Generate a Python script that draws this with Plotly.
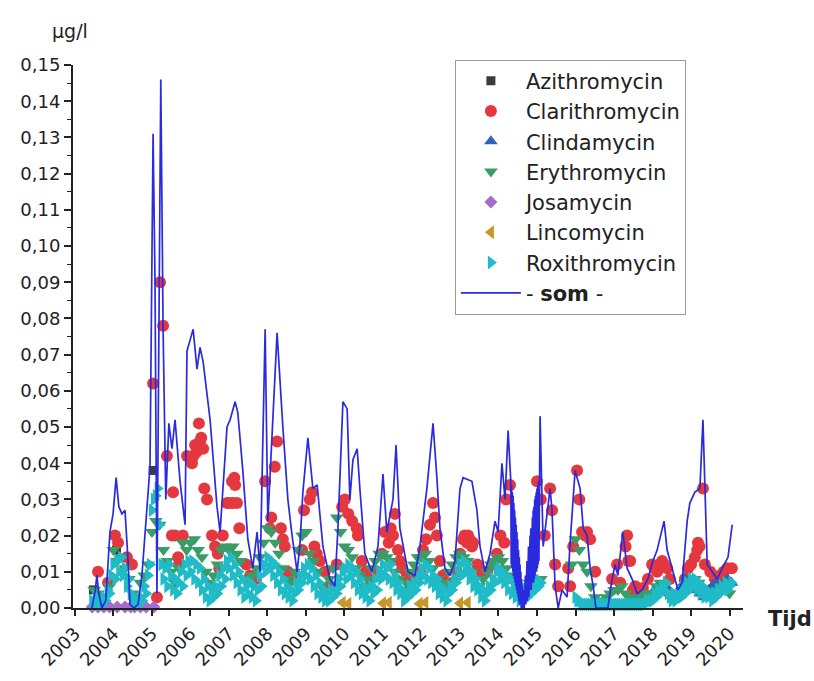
import plotly.graph_objects as go

# ---------------- data (decimal years, µg/l) ----------------
# "som" line, part before the dense 2014/2015 stretch
som_a_x = [2003.44, 2003.53, 2003.57, 2003.62, 2003.70, 2003.80, 2003.91, 2003.99, 2004.07, 2004.14,
           2004.22, 2004.30, 2004.38, 2004.43, 2004.53, 2004.64, 2004.74, 2004.84, 2004.95, 2005.03,
           2005.08, 2005.13, 2005.23, 2005.29, 2005.36, 2005.44, 2005.52, 2005.60, 2005.73, 2005.86,
           2005.91, 2005.99, 2006.07, 2006.17, 2006.25, 2006.33, 2006.51, 2006.69, 2006.77, 2006.95,
           2007.03, 2007.16, 2007.23, 2007.36, 2007.49, 2007.62, 2007.73, 2007.81, 2007.94, 2008.01,
           2008.25, 2008.40, 2008.53, 2008.64, 2008.77, 2008.84, 2008.92, 2009.05, 2009.18, 2009.29,
           2009.44, 2009.62, 2009.75, 2009.83, 2009.96, 2010.07, 2010.14, 2010.22, 2010.33, 2010.40,
           2010.53, 2010.71, 2010.87, 2011.00, 2011.10, 2011.26, 2011.34, 2011.44, 2011.52, 2011.65,
           2011.83, 2011.96, 2012.14, 2012.30, 2012.40, 2012.48, 2012.61, 2012.74, 2012.87, 2013.00,
           2013.08, 2013.31, 2013.44, 2013.52, 2013.65, 2013.78, 2013.91, 2013.99, 2014.09, 2014.17,
           2014.25, 2014.30]
som_a_y = [0.000, 0.005, 0.009, 0.004, 0.000, 0.002, 0.021, 0.026, 0.036, 0.028,
           0.026, 0.027, 0.013, 0.001, 0.000, 0.001, 0.009, 0.024, 0.039, 0.131,
           0.090, 0.004, 0.146, 0.077, 0.030, 0.051, 0.044, 0.052, 0.035, 0.023,
           0.071, 0.074, 0.077, 0.066, 0.072, 0.068, 0.052, 0.028, 0.021, 0.050,
           0.052, 0.057, 0.054, 0.038, 0.019, 0.011, 0.021, 0.010, 0.077, 0.024,
           0.076, 0.050, 0.030, 0.020, 0.010, 0.017, 0.032, 0.047, 0.033, 0.034,
           0.017, 0.008, 0.006, 0.022, 0.057, 0.055, 0.030, 0.041, 0.044, 0.033,
           0.015, 0.010, 0.017, 0.037, 0.021, 0.030, 0.045, 0.022, 0.017, 0.010,
           0.009, 0.017, 0.033, 0.051, 0.036, 0.022, 0.011, 0.009, 0.013, 0.033,
           0.036, 0.035, 0.027, 0.017, 0.010, 0.015, 0.024, 0.021, 0.040, 0.030,
           0.049, 0.036]

# "som" line, dense (high-frequency) stretch 2014.3 - 2015.1
som_d_x = [2014.32, 2014.33, 2014.34, 2014.35, 2014.36, 2014.37, 2014.38, 2014.39, 2014.40, 2014.41,
           2014.42, 2014.43, 2014.44, 2014.45, 2014.46, 2014.47, 2014.48, 2014.49, 2014.50, 2014.51,
           2014.52, 2014.53, 2014.54, 2014.55, 2014.56, 2014.57, 2014.58, 2014.59, 2014.60, 2014.61,
           2014.62, 2014.63, 2014.64, 2014.65, 2014.66, 2014.67, 2014.68, 2014.69, 2014.70, 2014.71,
           2014.72, 2014.73, 2014.74, 2014.75, 2014.76, 2014.77, 2014.78, 2014.79, 2014.80, 2014.81,
           2014.82, 2014.83, 2014.84, 2014.85, 2014.86, 2014.87, 2014.88, 2014.89, 2014.90, 2014.91,
           2014.92, 2014.93, 2014.94, 2014.95, 2014.96, 2014.97, 2014.98, 2014.99, 2015.00, 2015.01,
           2015.02, 2015.03, 2015.04, 2015.05, 2015.06, 2015.07]
som_d_y = [0.035, 0.012, 0.034, 0.011, 0.032, 0.010, 0.031, 0.009, 0.029, 0.008,
           0.027, 0.007, 0.025, 0.006, 0.023, 0.005, 0.021, 0.004, 0.019, 0.003,
           0.016, 0.002, 0.014, 0.001, 0.012, 0.001, 0.010, 0.000, 0.008, 0.000,
           0.006, 0.000, 0.004, 0.000, 0.005, 0.000, 0.007, 0.001, 0.009, 0.001,
           0.011, 0.002, 0.013, 0.002, 0.015, 0.003, 0.017, 0.003, 0.019, 0.004,
           0.020, 0.005, 0.022, 0.005, 0.024, 0.006, 0.025, 0.007, 0.027, 0.007,
           0.028, 0.008, 0.030, 0.009, 0.031, 0.010, 0.032, 0.010, 0.033, 0.011,
           0.034, 0.012, 0.035, 0.013, 0.035, 0.015]

# "som" line, part after the dense stretch
som_b_x = [2015.08, 2015.16, 2015.34, 2015.39, 2015.47, 2015.55, 2015.65, 2015.78, 2015.86, 2015.99,
           2016.12, 2016.20, 2016.30, 2016.38, 2016.46, 2016.53, 2016.70, 2016.84, 2016.95, 2017.03,
           2017.10, 2017.23, 2017.34, 2017.47, 2017.60, 2017.73, 2017.88, 2018.01, 2018.12, 2018.22,
           2018.30, 2018.38, 2018.53, 2018.66, 2018.77, 2018.90, 2018.97, 2019.10, 2019.23, 2019.31,
           2019.42, 2019.55, 2019.68, 2019.81, 2019.96, 2020.07]
som_b_y = [0.053, 0.017, 0.033, 0.027, 0.006, 0.000, 0.005, 0.003, 0.018, 0.038,
           0.033, 0.022, 0.020, 0.011, 0.006, 0.000, 0.000, 0.000, 0.008, 0.012,
           0.009, 0.021, 0.011, 0.008, 0.004, 0.005, 0.008, 0.013, 0.016, 0.020,
           0.024, 0.016, 0.010, 0.005, 0.007, 0.024, 0.029, 0.032, 0.033, 0.052,
           0.012, 0.010, 0.008, 0.011, 0.014, 0.023]

azi_x = [2003.48, 2004.08, 2005.03]
azi_y = [0.005, 0.016, 0.038]

cla_x = [2003.60, 2003.86, 2004.04, 2004.12, 2004.35, 2004.48, 2005.03, 2005.13, 2005.21, 2005.29,
         2005.39, 2005.52, 2005.55, 2005.60, 2005.68, 2005.70, 2005.80, 2005.91, 2006.04, 2006.08,
         2006.12, 2006.15, 2006.22, 2006.25, 2006.28, 2006.33, 2006.36, 2006.43, 2006.56, 2006.64,
         2006.71, 2006.75, 2006.84, 2006.95, 2007.02, 2007.08, 2007.10, 2007.14, 2007.16, 2007.21,
         2007.27, 2007.45, 2007.55, 2007.70, 2007.94, 2008.06, 2008.10, 2008.19, 2008.25, 2008.35,
         2008.40, 2008.45, 2008.53, 2008.62, 2008.75, 2008.90, 2008.95, 2009.10, 2009.16, 2009.22,
         2009.28, 2009.36, 2009.49, 2009.60, 2009.80, 2009.94, 2010.01, 2010.10, 2010.20, 2010.32,
         2010.35, 2010.45, 2010.55, 2010.66, 2010.85, 2010.97, 2011.05, 2011.15, 2011.20, 2011.26,
         2011.31, 2011.39, 2011.44, 2011.50, 2011.62, 2011.75, 2011.85, 2011.96, 2012.04, 2012.12,
         2012.22, 2012.30, 2012.35, 2012.40, 2012.48, 2012.56, 2012.69, 2012.80, 2012.92, 2013.00,
         2013.08, 2013.12, 2013.18, 2013.21, 2013.25, 2013.31, 2013.34, 2013.45, 2013.55, 2013.70,
         2013.86, 2013.96, 2014.05, 2014.15, 2014.20, 2014.30, 2015.00, 2015.10, 2015.20, 2015.34,
         2015.39, 2015.47, 2015.55, 2015.81, 2015.86, 2015.94, 2016.04, 2016.10, 2016.17, 2016.25,
         2016.30, 2016.38, 2016.51, 2016.95, 2017.08, 2017.16, 2017.30, 2017.34, 2017.37, 2017.42,
         2017.49, 2017.55, 2017.62, 2017.70, 2017.75, 2017.88, 2017.99, 2018.05, 2018.12, 2018.18,
         2018.25, 2018.30, 2018.38, 2018.45, 2018.84, 2018.92, 2019.00, 2019.10, 2019.16, 2019.18,
         2019.22, 2019.31, 2019.36, 2019.50, 2019.62, 2019.75, 2019.85, 2019.94, 2020.06]
cla_y = [0.010, 0.007, 0.020, 0.018, 0.014, 0.012, 0.062, 0.003, 0.090, 0.078,
         0.042, 0.020, 0.032, 0.020, 0.014, 0.012, 0.020, 0.042, 0.040, 0.042,
         0.045, 0.043, 0.051, 0.046, 0.047, 0.044, 0.033, 0.030, 0.020, 0.017,
         0.015, 0.011, 0.020, 0.029, 0.029, 0.035, 0.029, 0.036, 0.034, 0.029,
         0.022, 0.012, 0.009, 0.008, 0.035, 0.022, 0.025, 0.039, 0.046, 0.022,
         0.019, 0.017, 0.010, 0.009, 0.008, 0.016, 0.027, 0.030, 0.032, 0.017,
         0.015, 0.013, 0.010, 0.006, 0.012, 0.028, 0.030, 0.026, 0.024, 0.022,
         0.020, 0.013, 0.010, 0.008, 0.010, 0.015, 0.021, 0.018, 0.022, 0.020,
         0.026, 0.016, 0.013, 0.011, 0.009, 0.008, 0.008, 0.010, 0.016, 0.019,
         0.023, 0.029, 0.025, 0.020, 0.013, 0.009, 0.006, 0.007, 0.010, 0.015,
         0.019, 0.020, 0.018, 0.020, 0.019, 0.017, 0.018, 0.012, 0.010, 0.010,
         0.012, 0.015, 0.020, 0.018, 0.030, 0.034, 0.035, 0.030, 0.020, 0.033,
         0.027, 0.012, 0.006, 0.011, 0.006, 0.017, 0.038, 0.030, 0.021, 0.020,
         0.021, 0.019, 0.010, 0.008, 0.012, 0.007, 0.017, 0.020, 0.013, 0.013,
         0.005, 0.006, 0.004, 0.005, 0.0055, 0.008, 0.012, 0.011, 0.010, 0.012,
         0.013, 0.012, 0.011, 0.008, 0.008, 0.011, 0.012, 0.014, 0.016, 0.018,
         0.017, 0.033, 0.012, 0.010, 0.008, 0.009, 0.010, 0.011, 0.011]

cli_x = [2018.05, 2018.15, 2018.25, 2018.35, 2018.45, 2018.55, 2018.65, 2018.75, 2018.85, 2018.95,
         2019.05, 2019.15, 2019.25, 2019.35, 2019.45, 2019.55, 2019.65, 2019.75, 2019.85, 2019.95,
         2020.05]
cli_y = [0.005, 0.006, 0.005, 0.006, 0.004, 0.003, 0.004, 0.006, 0.008, 0.007,
         0.006, 0.005, 0.004, 0.003, 0.005, 0.006, 0.007, 0.006, 0.007, 0.008,
         0.007]

ery_x = [2003.50, 2003.60, 2003.70, 2003.80, 2003.90,
         2004.00, 2004.10, 2004.20, 2004.30, 2004.40, 2004.50, 2004.60, 2004.70, 2004.80, 2004.90,
         2005.00, 2005.10, 2005.20, 2005.30, 2005.40, 2005.50, 2005.60, 2005.70, 2005.80, 2005.90,
         2006.00, 2006.10, 2006.20, 2006.30, 2006.40, 2006.50, 2006.60, 2006.70, 2006.80, 2006.90,
         2007.00, 2007.10, 2007.20, 2007.30, 2007.40, 2007.50, 2007.60, 2007.70, 2007.80, 2007.90,
         2008.00, 2008.10, 2008.20, 2008.30, 2008.40, 2008.50, 2008.60, 2008.70, 2008.80, 2008.90,
         2009.00, 2009.10, 2009.20, 2009.30, 2009.40, 2009.50, 2009.60, 2009.70, 2009.80, 2009.90,
         2010.00, 2010.10, 2010.20, 2010.30, 2010.40, 2010.50, 2010.60, 2010.70, 2010.80, 2010.90,
         2011.00, 2011.10, 2011.20, 2011.30, 2011.40, 2011.50, 2011.60, 2011.70, 2011.80, 2011.90,
         2012.00, 2012.10, 2012.20, 2012.30, 2012.40, 2012.50, 2012.60, 2012.70, 2012.80, 2012.90,
         2013.00, 2013.10, 2013.20, 2013.30, 2013.40, 2013.50, 2013.60, 2013.70, 2013.80, 2013.90,
         2014.00, 2014.10, 2014.20, 2014.30, 2014.40, 2014.50, 2014.60, 2014.70, 2014.80, 2014.90,
         2015.00, 2015.10, 2015.90,
         2016.00, 2016.10, 2016.20, 2016.30, 2016.40, 2016.50, 2016.60, 2016.70, 2016.80, 2016.90,
         2017.00, 2017.10, 2017.20, 2017.30, 2017.40, 2017.50, 2017.60, 2017.70, 2017.80, 2017.90,
         2018.00, 2018.10, 2018.20, 2018.30, 2018.40, 2018.50, 2018.60, 2018.70, 2018.80, 2018.90,
         2019.00, 2019.10, 2019.20, 2019.30, 2019.40, 2019.50, 2019.60, 2019.70, 2019.80, 2019.90,
         2020.00]
ery_y = [0.005, 0.004, 0.002, 0.003, 0.006,
         0.016, 0.013, 0.014, 0.011, 0.008, 0.004, 0.003, 0.007, 0.009, 0.012,
         0.021, 0.024, 0.023, 0.016, 0.013, 0.010, 0.007, 0.011, 0.018, 0.016,
         0.018, 0.019, 0.016, 0.014, 0.010, 0.007, 0.009, 0.012, 0.016, 0.017,
         0.016, 0.017, 0.015, 0.013, 0.008, 0.007, 0.009, 0.011, 0.014, 0.018,
         0.022, 0.021, 0.018, 0.015, 0.011, 0.008, 0.007, 0.010, 0.016, 0.020,
         0.021, 0.015, 0.013, 0.010, 0.006, 0.005, 0.008, 0.011, 0.025, 0.021,
         0.017, 0.016, 0.014, 0.011, 0.009, 0.006, 0.008, 0.011, 0.013, 0.015,
         0.015, 0.014, 0.013, 0.010, 0.008, 0.005, 0.007, 0.010, 0.012, 0.014,
         0.014, 0.015, 0.013, 0.011, 0.008, 0.005, 0.007, 0.010, 0.012, 0.014,
         0.015, 0.014, 0.013, 0.010, 0.008, 0.006, 0.008, 0.010, 0.012, 0.013,
         0.014, 0.013, 0.011, 0.009, 0.007, 0.005, 0.004, 0.006, 0.007, 0.008,
         0.006, 0.008, 0.012,
         0.019, 0.016, 0.012, 0.010, 0.006, 0.003, 0.002, 0.002, 0.003, 0.004,
         0.005, 0.005, 0.006, 0.004, 0.003, 0.003, 0.002, 0.003, 0.004, 0.004,
         0.004, 0.006, 0.007, 0.006, 0.004, 0.003, 0.004, 0.004, 0.005, 0.006,
         0.006, 0.008, 0.007, 0.005, 0.004, 0.004, 0.004, 0.005, 0.006, 0.006,
         0.004]

jos_x = [2003.45, 2003.60, 2003.75, 2003.90, 2004.10, 2004.30, 2004.45, 2004.55, 2004.70, 2004.85,
         2005.05]
jos_y = [0.0003, 0.0003, 0.0003, 0.0003, 0.0003, 0.0003, 0.0003, 0.0003, 0.0003, 0.0003,
         0.0003]

lin_x = [2009.95, 2010.10, 2011.00, 2011.15, 2011.95, 2012.10, 2013.00, 2013.20]
lin_y = [0.0015, 0.0012, 0.0013, 0.0015, 0.0012, 0.0015, 0.0013, 0.0015]

rox_x = [2003.45, 2003.50, 2003.55, 2003.60, 2003.65, 2003.70, 2003.75, 2003.80, 2003.85, 2003.90, 2003.95,
         2004.00, 2004.05, 2004.10, 2004.15, 2004.20, 2004.25, 2004.30, 2004.35, 2004.40, 2004.45,
         2004.50, 2004.55, 2004.60, 2004.65, 2004.70, 2004.75, 2004.80, 2004.85, 2004.90, 2004.95,
         2005.00, 2005.05, 2005.10, 2005.15, 2005.20, 2005.25, 2005.30, 2005.35, 2005.40, 2005.45,
         2005.50, 2005.55, 2005.60, 2005.65, 2005.70, 2005.75, 2005.80, 2005.85, 2005.90, 2005.95,
         2006.00, 2006.05, 2006.10, 2006.15, 2006.20, 2006.25, 2006.30, 2006.35, 2006.40, 2006.45,
         2006.50, 2006.55, 2006.60, 2006.65, 2006.70, 2006.75, 2006.80, 2006.85, 2006.90, 2006.95,
         2007.00, 2007.05, 2007.10, 2007.15, 2007.20, 2007.25, 2007.30, 2007.35, 2007.40, 2007.45,
         2007.50, 2007.55, 2007.60, 2007.65, 2007.70, 2007.75, 2007.80, 2007.85, 2007.90, 2007.95,
         2008.00, 2008.05, 2008.10, 2008.15, 2008.20, 2008.25, 2008.30, 2008.35, 2008.40, 2008.45,
         2008.50, 2008.55, 2008.60, 2008.65, 2008.70, 2008.75, 2008.80, 2008.85, 2008.90, 2008.95,
         2009.00, 2009.05, 2009.10, 2009.15, 2009.20, 2009.25, 2009.30, 2009.35, 2009.40, 2009.45,
         2009.50, 2009.55, 2009.60, 2009.65, 2009.70, 2009.75, 2009.80, 2009.85, 2009.90, 2009.95,
         2010.00, 2010.05, 2010.10, 2010.15, 2010.20, 2010.25, 2010.30, 2010.35, 2010.40, 2010.45,
         2010.50, 2010.55, 2010.60, 2010.65, 2010.70, 2010.75, 2010.80, 2010.85, 2010.90, 2010.95,
         2011.00, 2011.05, 2011.10, 2011.15, 2011.20, 2011.25, 2011.30, 2011.35, 2011.40, 2011.45,
         2011.50, 2011.55, 2011.60, 2011.65, 2011.70, 2011.75, 2011.80, 2011.85, 2011.90, 2011.95,
         2012.00, 2012.05, 2012.10, 2012.15, 2012.20, 2012.25, 2012.30, 2012.35, 2012.40, 2012.45,
         2012.50, 2012.55, 2012.60, 2012.65, 2012.70, 2012.75, 2012.80, 2012.85, 2012.90, 2012.95,
         2013.00, 2013.05, 2013.10, 2013.15, 2013.20, 2013.25, 2013.30, 2013.35, 2013.40, 2013.45,
         2013.50, 2013.55, 2013.60, 2013.65, 2013.70, 2013.75, 2013.80, 2013.85, 2013.90, 2013.95,
         2014.00, 2014.05, 2014.10, 2014.15, 2014.20, 2014.25, 2014.30, 2014.35, 2014.40, 2014.45,
         2014.50, 2014.55, 2014.60, 2014.65, 2014.70, 2014.75, 2014.80, 2014.85, 2014.90, 2014.95,
         2015.00, 2015.05, 2015.10,
         2016.00, 2016.05, 2016.10, 2016.15, 2016.20, 2016.25, 2016.30, 2016.35, 2016.40, 2016.45,
         2016.50, 2016.55, 2016.60, 2016.65, 2016.70, 2016.75, 2016.80, 2016.85, 2016.90, 2016.95,
         2017.00, 2017.05, 2017.10, 2017.15, 2017.20, 2017.25, 2017.30, 2017.35, 2017.40, 2017.45,
         2017.50, 2017.55, 2017.60, 2017.65, 2017.70, 2017.75, 2017.80, 2017.85, 2017.90, 2017.95,
         2018.00, 2018.05, 2018.10, 2018.15, 2018.20, 2018.25, 2018.30, 2018.35, 2018.40, 2018.45,
         2018.50, 2018.55, 2018.60, 2018.65, 2018.70, 2018.75, 2018.80, 2018.85, 2018.90, 2018.95,
         2019.00, 2019.05, 2019.10, 2019.15, 2019.20, 2019.25, 2019.30, 2019.35, 2019.40, 2019.45,
         2019.50, 2019.55, 2019.60, 2019.65, 2019.70, 2019.75, 2019.80, 2019.85, 2019.90, 2019.95,
         2020.00, 2020.05]
rox_y = [0.002, 0.001, 0.003, 0.002, 0.001, 0.001, 0.003, 0.002, 0.005, 0.004, 0.009,
         0.012, 0.008, 0.013, 0.010, 0.014, 0.009, 0.011, 0.006, 0.008, 0.004,
         0.003, 0.001, 0.002, 0.001, 0.003, 0.002, 0.006, 0.004, 0.009, 0.012,
         0.027, 0.030, 0.031, 0.033, 0.023, 0.012, 0.008, 0.011, 0.006, 0.012,
         0.009, 0.005, 0.008, 0.004, 0.007, 0.010, 0.006, 0.012, 0.009, 0.013,
         0.010, 0.013, 0.008, 0.012, 0.007, 0.011, 0.005, 0.008, 0.003, 0.006,
         0.002, 0.005, 0.003, 0.006, 0.004, 0.009, 0.006, 0.011, 0.008, 0.013,
         0.011, 0.014, 0.009, 0.012, 0.007, 0.010, 0.005, 0.008, 0.003, 0.006,
         0.004, 0.007, 0.003, 0.006, 0.002, 0.005, 0.009, 0.006, 0.012, 0.010,
         0.014, 0.011, 0.013, 0.009, 0.012, 0.007, 0.010, 0.005, 0.008, 0.004,
         0.006, 0.003, 0.005, 0.002, 0.004, 0.007, 0.005, 0.009, 0.007, 0.011,
         0.009, 0.012, 0.008, 0.011, 0.006, 0.009, 0.004, 0.007, 0.003, 0.005,
         0.002, 0.004, 0.002, 0.005, 0.003, 0.006, 0.004, 0.008, 0.006, 0.010,
         0.011, 0.008, 0.012, 0.009, 0.011, 0.007, 0.010, 0.005, 0.008, 0.004,
         0.006, 0.003, 0.005, 0.002, 0.006, 0.004, 0.008, 0.005, 0.010, 0.008,
         0.012, 0.009, 0.011, 0.008, 0.012, 0.007, 0.009, 0.005, 0.007, 0.004,
         0.005, 0.002, 0.004, 0.003, 0.006, 0.004, 0.007, 0.005, 0.009, 0.007,
         0.011, 0.009, 0.012, 0.008, 0.011, 0.007, 0.009, 0.006, 0.008, 0.004,
         0.006, 0.003, 0.005, 0.002, 0.004, 0.006, 0.005, 0.008, 0.007, 0.010,
         0.012, 0.009, 0.013, 0.010, 0.012, 0.008, 0.010, 0.006, 0.008, 0.005,
         0.006, 0.003, 0.005, 0.002, 0.004, 0.006, 0.005, 0.008, 0.007, 0.010,
         0.011, 0.008, 0.010, 0.007, 0.009, 0.005, 0.008, 0.004, 0.006, 0.003,
         0.005, 0.002, 0.004, 0.002, 0.005, 0.003, 0.006, 0.004, 0.007, 0.005,
         0.008, 0.006, 0.007,
         0.003, 0.002, 0.002, 0.001, 0.001, 0.001, 0.001, 0.001, 0.001, 0.001,
         0.001, 0.001, 0.001, 0.001, 0.001, 0.001, 0.001, 0.001, 0.001, 0.001,
         0.001, 0.001, 0.001, 0.001, 0.001, 0.001, 0.001, 0.001, 0.001, 0.001,
         0.001, 0.001, 0.001, 0.001, 0.001, 0.001, 0.001, 0.002, 0.002, 0.002,
         0.002, 0.004, 0.003, 0.005, 0.004, 0.006, 0.005, 0.007, 0.004, 0.003,
         0.002, 0.004, 0.002, 0.003, 0.005, 0.003, 0.006, 0.004, 0.007, 0.005,
         0.008, 0.006, 0.008, 0.005, 0.007, 0.004, 0.006, 0.003, 0.005, 0.003,
         0.004, 0.002, 0.004, 0.003, 0.005, 0.004, 0.006, 0.005, 0.007, 0.005,
         0.006, 0.007]

year_ticks = list(range(2003, 2021))

# ---------------- figure ----------------
FONT = "DejaVu Sans"
TXT = "#222222"

fig = go.Figure()

def add_markers(name, xs, ys, symbol, color, size):
    fig.add_trace(go.Scatter(
        x=xs, y=ys, mode="markers", name=name,
        marker=dict(symbol=symbol, color=color, size=size, line=dict(width=0)),
        cliponaxis=False))

add_markers("Azithromycin", azi_x, azi_y, "square", "#3c3c3c", 9)
add_markers("Clarithromycin", cla_x, cla_y, "circle", "#e5373e", 12)
add_markers("Clindamycin", cli_x, cli_y, "triangle-up", "#2d63b8", 12)
add_markers("Erythromycin", ery_x, ery_y, "triangle-down", "#3a9d68", 12)
add_markers("Josamycin", jos_x, jos_y, "diamond", "#a66ccb", 10)
add_markers("Lincomycin", lin_x, lin_y, "triangle-left", "#c6972a", 12)
add_markers("Roxithromycin", rox_x, rox_y, "triangle-right", "#1fbcc8", 12)

som_x = som_a_x + som_d_x + som_b_x
som_y = som_a_y + som_d_y + som_b_y
fig.add_trace(go.Scatter(
    x=som_x, y=som_y, mode="lines", name="- <b>som</b> -",
    line=dict(color="#2a2adf", width=1.7), cliponaxis=False))

fig.update_layout(
    width=814, height=681,
    margin=dict(l=73, r=71, t=65, b=73),
    paper_bgcolor="white", plot_bgcolor="white",
    separators=", ",
    font=dict(family=FONT, color=TXT, size=18),
    showlegend=True,
    legend=dict(
        x=0.57, y=1.01, xanchor="left", yanchor="top",
        bgcolor="white", bordercolor="#9a9a9a", borderwidth=1,
        font=dict(family=FONT, size=21, color=TXT),
        itemwidth=60, traceorder="normal", tracegroupgap=0),
    xaxis=dict(
        range=[2002.95, 2020.35], tickmode="array", tickvals=year_ticks,
        ticktext=[str(v) for v in year_ticks], tickangle=-45,
        ticks="outside", ticklen=6, tickwidth=1.5, tickcolor=TXT,
        showline=True, linecolor=TXT, linewidth=2,
        showgrid=False, zeroline=False,
        tickfont=dict(family=FONT, size=18, color=TXT)),
    yaxis=dict(
        range=[0, 0.15], dtick=0.01, tick0=0, tickformat=".2f",
        ticks="outside", ticklen=7, tickwidth=1.5, tickcolor=TXT,
        minor=dict(dtick=0.005, ticks="outside", ticklen=4, tickwidth=1.2, tickcolor=TXT),
        showline=True, linecolor=TXT, linewidth=2,
        showgrid=False, zeroline=False,
        tickfont=dict(family=FONT, size=18, color=TXT)),
    annotations=[
        dict(text="µg/l", xref="paper", yref="paper", x=-0.004, y=1.063,
             xanchor="center", yanchor="middle",
             showarrow=False, font=dict(family=FONT, size=19, color=TXT)),
        dict(text="<b>Tijd</b>", xref="paper", yref="paper", x=1.07, y=-0.02,
             xanchor="center", yanchor="middle",
             showarrow=False, font=dict(family=FONT, size=21, color=TXT)),
    ],
)

fig.write_html("out.html")
